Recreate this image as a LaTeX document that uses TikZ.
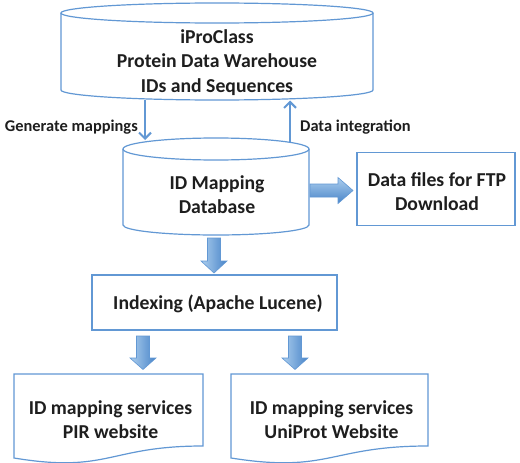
\documentclass[tikz,border=0pt]{standalone}
\usepackage{fontspec}
\setmainfont{Carlito}
\usetikzlibrary{arrows.meta}
\definecolor{edge}{RGB}{98,152,212}
\definecolor{alight}{RGB}{172,206,238}
\definecolor{adark}{RGB}{72,132,200}
\definecolor{ink}{RGB}{30,30,30}
\newcommand\fatdown[4]{\shadedraw[fat, left color=alight, right color=adark] (#1-6.5,#2) -- (#1+6.5,#2) -- (#1+6.5,#3) -- (#1+13,#3) -- (#1,#4) -- (#1-13,#3) -- (#1-6.5,#3) -- cycle;}
\begin{document}
\begin{tikzpicture}[x=1pt,y=-1pt,
  outl/.style={draw=edge, line width=1.2pt},
  txt/.style={font=\fontsize{19.7}{24.3}\selectfont\bfseries, text=ink, align=center, inner sep=0pt},
  lbl/.style={font=\fontsize{16.4}{20}\selectfont\bfseries, text=ink, inner sep=0pt},
  thinarrow/.style={draw=edge, line width=2pt, -{Straight Barb[length=6pt,width=12pt,line width=2pt]}},
  fat/.style={draw=edge, line width=0.6pt},
  boxnode/.style={outl, rectangle, inner sep=0pt},
]
\fill[white] (0,0) rectangle (520,463);
\useasboundingbox (0,0) rectangle (520,463);

% top cylinder
\draw[outl] (61,13) -- (61,90) arc[start angle=180, end angle=0, x radius=156, y radius=10] -- (373,13);
\draw[outl] (217,13) ellipse [x radius=156, y radius=10];
\node[txt] (ipc) at (217,62.5) {iProClass\\Protein Data Warehouse\\IDs and Sequences};

% ID mapping cylinder
\draw[outl] (123,149) -- (123,225) arc[start angle=180, end angle=0, x radius=93, y radius=10] -- (309,149);
\draw[outl] (216,149) ellipse [x radius=93, y radius=11];
\node[txt] (idm) at (217,195) {ID Mapping\\Database};

% thin arrows
\coordinate (gmA) at (145,99.5);
\coordinate (gmB) at (145,140);
\coordinate (diA) at (290,142);
\coordinate (diB) at (290,100.5);
\draw[thinarrow] (gmA) -- (gmB);
\draw[thinarrow] (diA) -- (diB);
\node[lbl, anchor=base east] (gml) at (138,131) {Generate mappings};
\node[lbl, anchor=base west] (dil) at (300,131) {Data integration};

% data files box
\node[boxnode, minimum width=158pt, minimum height=72.5pt] (ftp) at (436,189) {};
\node[txt] (ftpt) at (437,191.5) {Data files for FTP\\Download};

% right fat arrow
\shadedraw[fat, top color=alight, bottom color=adark] (310,184) -- (338,184) -- (338,177.5) -- (353,190.5) -- (338,203.5) -- (338,197) -- (310,197) -- cycle;

% down fat arrow to indexing
\fatdown{214}{238}{261}{273}

% indexing box
\node[boxnode, minimum width=245pt, minimum height=55pt] (idx) at (214.5,302.5) {};
\node[txt] (idxt) at (218,303.5) {Indexing (Apache Lucene)};

% fat arrows to documents
\fatdown{143}{336}{358}{369.5}
\fatdown{295}{336}{358}{369.5}

% document shapes
\draw[outl] (14,374) -- (203,374) -- (203,446) .. controls (108.5,446) and (108.5,473.6) .. (14,458) -- cycle;
\draw[outl] (231,374) -- (428,374) -- (428,446) .. controls (329.5,446) and (329.5,473.6) .. (231,458) -- cycle;
\node[txt] (pir) at (110.5,420) {ID mapping services\\PIR website};
\node[txt] (uni) at (331.5,420) {ID mapping services\\UniProt Website};
\end{tikzpicture}
\end{document}
